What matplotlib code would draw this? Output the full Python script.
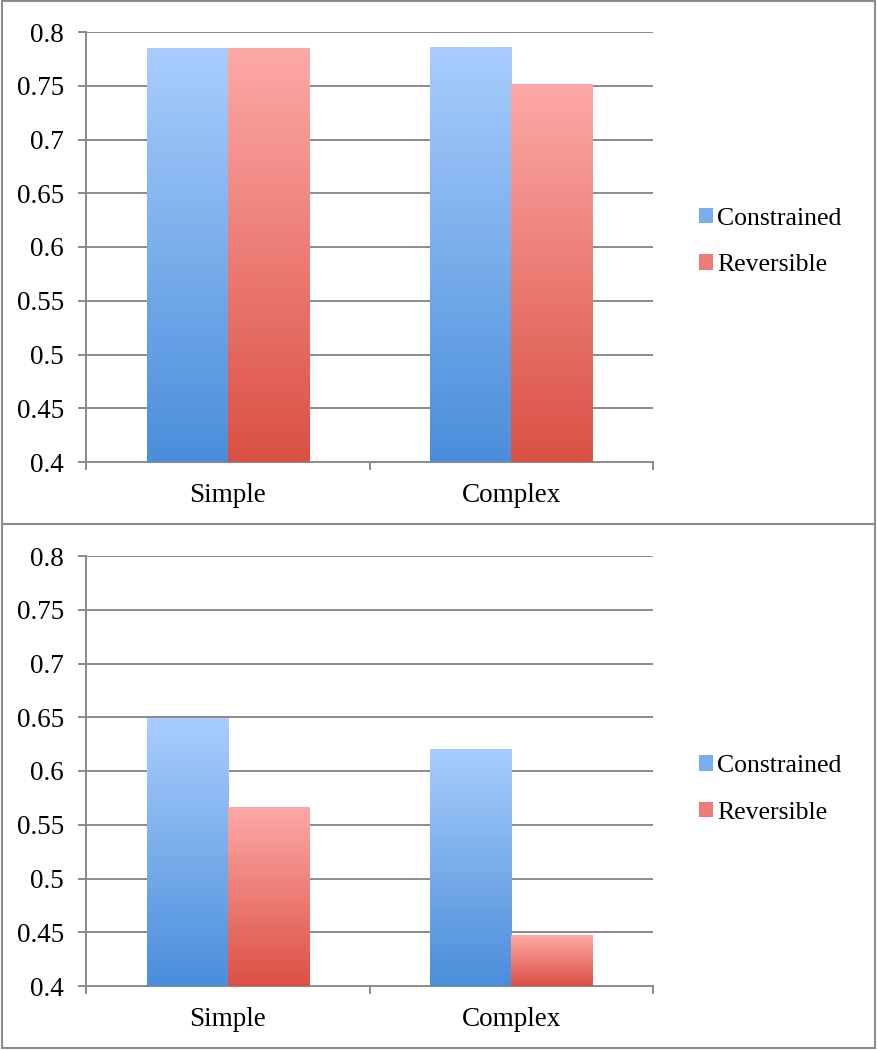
import numpy as np
import matplotlib.pyplot as plt
from matplotlib.colors import LinearSegmentedColormap
from matplotlib.patches import Patch, Rectangle

categories = ['Simple', 'Complex']
series_names = ['Constrained', 'Reversible']

# top chart
top_constrained = [0.785, 0.786]
top_reversible = [0.785, 0.751]
# bottom chart
bottom_constrained = [0.649, 0.620]
bottom_reversible = [0.566, 0.447]

y_ticks = [0.4, 0.45, 0.5, 0.55, 0.6, 0.65, 0.7, 0.75, 0.8]

blue_cmap = LinearSegmentedColormap.from_list('blue', ['#4a8edb', '#a9cdfd'])
red_cmap = LinearSegmentedColormap.from_list('red', ['#db5044', '#fda9a7'])
grid_col = '#8a8a8a'

W, H = 877, 1050
plt.rcParams['font.family'] = ['Liberation Serif', 'DejaVu Serif']
plt.rcParams['font.size'] = 19.5

fig = plt.figure(figsize=(W / 100, H / 100), dpi=100)

# outer boxes of the two panels
for (y0, y1) in [(1, 524), (524, 1048)]:
    fig.patches.append(Rectangle((2 / W, 1 - y1 / H), (873 / W), (y1 - y0) / H,
                                 transform=fig.transFigure, fill=False,
                                 edgecolor='#8c8c8c', lw=1.5))


def gradient_bar(ax, x, width, top, cmap, base=0.4):
    grad = np.linspace(0, 1, 256).reshape(-1, 1)
    ax.imshow(grad, extent=[x - width / 2, x + width / 2, base, top],
              origin='lower', cmap=cmap, aspect='auto', zorder=3)


def draw_panel(rect, constrained, reversible, legend_y):
    ax = fig.add_axes(rect)
    x = np.arange(len(categories))
    w = 0.286
    for i in range(len(categories)):
        gradient_bar(ax, x[i] - w / 2, w, constrained[i], blue_cmap)
        gradient_bar(ax, x[i] + w / 2, w, reversible[i], red_cmap)

    ax.set_xlim(-0.5, 1.5)
    ax.set_ylim(0.4, 0.8)
    ax.set_yticks(y_ticks)
    ax.set_yticklabels([('%g' % v) for v in y_ticks])
    for v in y_ticks[1:]:
        ax.axhline(v, color=grid_col, lw=1.4, zorder=1)

    ax.set_xticks(x)
    ax.set_xticklabels(categories)
    ax.set_xticks([-0.5, 0.5, 1.5], minor=True)
    ax.tick_params(axis='x', which='major', length=0, pad=15)
    ax.tick_params(axis='x', which='minor', length=6, width=1.4, color=grid_col)
    ax.tick_params(axis='y', length=6, width=1.4, color=grid_col, pad=10)

    for s in ['top', 'right']:
        ax.spines[s].set_visible(False)
    for s in ['left', 'bottom']:
        ax.spines[s].set_color(grid_col)
        ax.spines[s].set_linewidth(1.4)

    handles = [Patch(facecolor='#78aef0', edgecolor='none'),
               Patch(facecolor='#ec7c74', edgecolor='none')]
    ax.legend(handles, series_names, loc='center left',
              bbox_to_anchor=(1.04, legend_y), frameon=False,
              fontsize=18.5, handlelength=0.55, handleheight=0.55,
              handletextpad=0.15, labelspacing=0.95)
    return ax


draw_panel([86 / W, 1 - 462 / H, 567 / W, 430 / H],
           top_constrained, top_reversible, 0.512)
draw_panel([86 / W, 1 - 986 / H, 567 / W, 430 / H],
           bottom_constrained, bottom_reversible, 0.457)

fig.savefig('out.png', dpi=100)
